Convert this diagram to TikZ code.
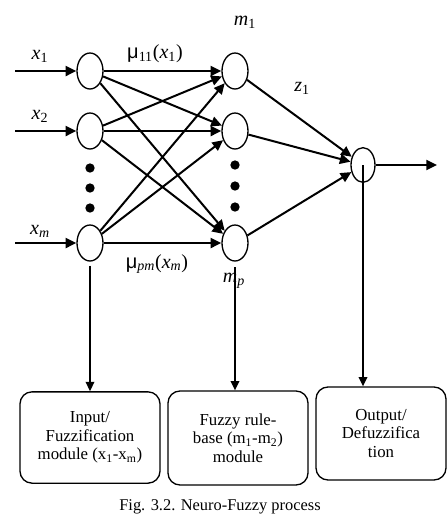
\documentclass[tikz,border=0pt]{standalone}
\usepackage{fontspec}
\setmainfont{Liberation Serif}
\newfontfamily\mufont{Liberation Sans}
\usetikzlibrary{arrows.meta,shapes.geometric}
\newcommand{\vsub}[2]{\textit{#1}\textsubscript{#2}}
\begin{document}
\begin{tikzpicture}[x=0.75pt,y=-0.75pt,
  neuron/.style={draw,line width=1pt,ellipse,minimum width=19.5pt,minimum height=27pt,inner sep=0pt},
  outneuron/.style={draw,line width=1pt,ellipse,minimum width=18pt,minimum height=26pt,inner sep=0pt},
  conn/.style={line width=1.5pt,-{Triangle[length=8pt,width=7.5pt]}},
  drop/.style={line width=1.1pt,-{Triangle[length=7pt,width=6.5pt]}},
  module/.style={draw,line width=1pt,rounded corners=9pt,minimum width=105pt,align=center,
    font=\fontsize{12.6}{14}\selectfont,inner sep=0pt},
  lab/.style={font=\fontsize{15}{17}\selectfont,inner sep=0pt},
  dot/.style={circle,fill=black,minimum size=7pt,inner sep=0pt}
]
\useasboundingbox (0,0) rectangle (447,515);

% input layer
\node[neuron] (i1) at (90,71) {};
\node[neuron] (i2) at (90,131) {};
\node[neuron] (i3) at (90,243) {};
\node[dot] (d1) at (90,168) {};
\node[dot] (d2) at (90,188) {};
\node[dot] (d3) at (90,208) {};

% hidden layer
\node[neuron] (h1) at (235,71) {};
\node[neuron] (h2) at (235,131) {};
\node[neuron] (h3) at (235,243) {};
\node[dot] (e1) at (235,165) {};
\node[dot] (e2) at (235,186) {};
\node[dot] (e3) at (235,207) {};

% output
\node[outneuron] (o) at (363,165) {};
\coordinate (oend) at (437,165);
\draw[conn] (o) -- (oend);

% inputs
\coordinate (s1) at (15,71);
\coordinate (s2) at (15,131);
\coordinate (s3) at (15,243);
\draw[conn] (s1) -- (i1);
\draw[conn] (s2) -- (i2);
\draw[conn] (s3) -- (i3);

\node[lab] (lx1) at (40,56) {\vsub{x}{1}};
\node[lab] (lx2) at (40,116) {\vsub{x}{2}};
\node[lab] (lxm) at (40,231) {\vsub{x}{\textit{m}}};

% full connections
\foreach \a in {i1,i2,i3}{
  \foreach \b in {h1,h2,h3}{
    \draw[conn] (\a) -- (\b);
  }
}
\draw[conn] (h1) -- (o);
\draw[conn] (h2) -- (o);
\draw[conn] (h3) -- (o);

\node[lab] (mu11) at (155,54) {{\mufont μ}\textsubscript{11}(\vsub{x}{1})};
\node[lab] (mupm) at (157,264) {{\mufont μ}\textsubscript{\textit{pm}}(\vsub{x}{\textit{m}})};
\node[lab] (lm1) at (245,22) {\vsub{m}{1}};
\node[lab] (lz1) at (302,88) {\vsub{z}{1}};
\node[lab] (lmp) at (234,281) {\vsub{m}{\textit{p}}};

% modules
\node[module,minimum height=68.5pt] (b1) at (90,437.5) {Input/\\Fuzzification\\module (x\textsubscript{1}-x\textsubscript{m})};
\node[module,minimum height=70.5pt] (b2) at (238,438) {Fuzzy rule-\\base (m\textsubscript{1}-m\textsubscript{2})\\module};
\node[module,minimum width=97.5pt,minimum height=69.75pt] (b3) at (381,433.5) {Output/\\Defuzzifica\\tion};

\draw[drop,shorten <=3pt] (i3.south) -- (i3.south |- b1.north);
\draw[drop,shorten <=4pt] (h3.south) -- (h3.south |- b2.north);
\draw[drop] (o.center) -- (o.center |- b3.north);

\node[font=\fontsize{12.3}{14}\selectfont] (cap) at (220,507) {Fig. 3.2. Neuro-Fuzzy process};
\end{tikzpicture}
\end{document}
